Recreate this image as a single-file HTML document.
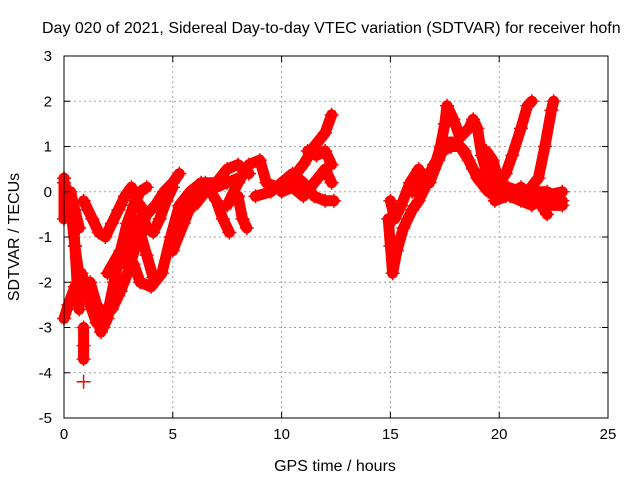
<!DOCTYPE html>
<html><head><meta charset="utf-8"><style>
html,body{margin:0;padding:0;background:#fff}
svg{display:block;font-family:"Liberation Sans",sans-serif}
</style></head><body>
<svg id="chart" width="640" height="480" viewBox="0 0 640 480" xmlns="http://www.w3.org/2000/svg">
<rect width="640" height="480" fill="#fff"/>
<text x="42" y="33" font-size="16" fill="#000">Day 020 of 2021, Sidereal Day-to-day VTEC variation (SDTVAR) for receiver hofn</text>
<g id="grid"></g>
<g id="series"></g>
<rect x="64" y="56" width="544" height="362" fill="none" stroke="#000" stroke-width="1"/>
<g id="axes"></g>
<text x="335" y="471" font-size="16" text-anchor="middle">GPS time / hours</text>
<text transform="translate(19,237) rotate(-90)" font-size="16" text-anchor="middle">SDTVAR / TECUs</text>
</svg>
<script>
const xTicks=[0,5,10,15,20,25];
const yTicks=[3,2,1,0,-1,-2,-3,-4,-5];
const tracks=[
[[0,0.2],[0.3,-0.3],[0.5,-1.2],[0.7,-1.9],[1.0,-2.0],[1.2,-2.5],[1.5,-2.9],[1.8,-3.0],[2.0,-2.7],[2.3,-2.0],[2.6,-1.3],[2.9,-0.7],[3.2,-0.3],[3.5,0.0],[3.8,0.1]],
[[0,-2.8],[0.2,-2.5],[0.5,-2.1],[0.8,-1.8],[1.1,-2.2],[1.4,-2.6],[1.7,-3.1],[2.0,-2.8],[2.3,-2.2]],
[[0.4,-0.4],[0.5,-1.2],[0.6,-2.0],[0.7,-2.6]],
[[1.2,-2.0],[1.5,-2.5],[1.8,-2.7],[2.2,-2.6],[2.5,-2.3]],
[[0,0.3],[0,-0.6],[0.1,-0.2],[0.3,0.0],[0.5,-0.4],[0.7,-0.8]],
[[0.9,-0.2],[1.3,-0.6],[1.6,-0.9],[1.9,-1.0],[2.2,-0.7],[2.5,-0.4],[2.8,-0.1],[3.1,0.1],[3.3,-0.2]],
[[2.0,-1.8],[2.6,-1.3],[3.2,-1.6],[3.5,-2.0],[4.0,-2.1],[4.5,-1.8],[4.9,-1.0],[5.3,-0.3],[5.8,0.0],[6.3,0.2],[7.0,0.2],[7.5,0.5],[8.0,0.6],[8.5,0.4]],
[[2.3,-2.3],[2.6,-2.2],[3.0,-1.7],[3.4,-1.0],[3.8,-0.5],[4.2,-0.3],[4.6,0.0],[5.0,0.2],[5.3,0.4]],
[[2.6,-1.6],[2.9,-1.0],[3.2,-0.6],[3.5,-0.9],[3.8,-1.4],[4.1,-1.9]],
[[3.5,-0.3],[3.8,-0.8],[4.1,-0.9],[4.4,-0.6],[4.7,-0.2],[5.0,0.1]],
[[5.0,-1.3],[5.5,-0.7],[6.0,-0.1],[6.5,0.2],[7.0,-0.2],[7.3,-0.6],[7.6,-0.9]],
[[6.0,-0.3],[6.5,0.0],[7.0,0.1],[7.5,0.2],[8.0,0.3]],
[[7.5,-0.3],[8.0,0.2],[8.5,0.6],[9.0,0.7],[9.3,0.2],[9.8,0.1],[10.5,0.3],[11.0,0.6],[11.5,1.0],[12.0,1.3],[12.3,1.7]],
[[8.0,-0.1],[8.2,-0.6],[8.4,-0.8]],
[[8.8,-0.1],[9.5,0.0],[10.0,0.2],[10.5,0.4],[11.0,0.2],[11.5,-0.1],[12.0,-0.2],[12.4,-0.2]],
[[10.0,0.0],[10.5,0.1],[11.0,-0.1],[11.5,0.2],[12.0,0.5],[12.3,0.2]],
[[11.2,0.9],[11.6,0.8],[12.0,0.9],[12.3,0.6]],
[[0.9,-3.0],[0.9,-3.4],[0.9,-3.7]],
[[0.9,-4.2]],
[[14.9,-0.6],[15.0,-1.2],[15.1,-1.8],[15.3,-1.3],[15.6,-0.8],[16.0,-0.4],[16.3,-0.2],[16.6,0.1],[17.0,0.5],[17.3,1.0],[17.5,1.5],[17.6,1.9],[17.9,1.6],[18.2,1.2],[18.6,1.4],[18.8,1.6],[19.0,1.4],[19.2,0.8],[19.5,0.3],[19.8,0.2],[20.2,0.1],[20.6,0.0],[21.0,-0.1],[21.5,-0.2],[22.0,-0.3],[22.9,-0.3]],
[[15.0,-0.2],[15.2,-0.6],[15.5,-0.3],[15.9,0.2],[16.3,0.5],[16.6,0.2],[17.0,0.6],[17.4,0.9],[17.8,1.0],[18.2,1.0],[18.6,0.7],[19.0,0.3],[19.5,0.0],[20.0,0.0],[20.5,-0.1],[21.0,-0.2],[21.5,-0.3],[22.0,-0.1],[22.9,0.0]],
[[16.0,0.0],[16.4,0.3],[16.8,0.2],[17.2,0.7],[17.6,1.1],[18.0,1.1],[18.4,0.9],[18.8,0.5],[19.2,0.2],[19.8,-0.1],[20.4,0.1],[21.0,0.0],[21.6,0.0],[22.2,0.0],[22.9,-0.2]],
[[19.4,0.9],[19.7,0.7],[20.0,0.2],[20.3,0.4],[20.6,0.8],[21.0,1.4],[21.3,1.9],[21.5,2.0]],
[[20.6,-0.1],[21.3,0.0],[21.8,0.3],[22.1,1.0],[22.4,1.8],[22.5,2.0]],
[[19.8,-0.2],[20.3,-0.1],[21.0,0.1],[21.8,-0.2],[22.2,-0.5]]
];
const NS="http://www.w3.org/2000/svg";
const X0=64,X1=608,Y0=56,Y1=418;
function xs(t){return X0+(t-0)/(25-0)*(X1-X0);}
function ys(v){return Y0+(3-v)/(3-(-5))*(Y1-Y0);}
function mk(tag,attrs,parent){const e=document.createElementNS(NS,tag);for(const k in attrs)e.setAttribute(k,attrs[k]);parent.appendChild(e);return e;}
const grid=document.getElementById('grid'),axes=document.getElementById('axes'),ser=document.getElementById('series');
xTicks.forEach(t=>{const x=xs(t);
 if(t>0&&t<25){const g=mk('line',{x1:x,x2:x,y1:Y0,y2:Y1,stroke:'#a0a0a0','stroke-dasharray':'2,3'},grid);
 
 }
 const tk=mk('path',{d:`M${x},${Y1}v-6M${x},${Y0}v6`,stroke:'#000'},axes);
 
 
 const l=mk('text',{x:x,y:Y1+21,'font-size':15,'text-anchor':'middle'},axes);l.textContent=t;
 
 
});
yTicks.forEach(v=>{const y=ys(v);
 if(v<3&&v>-5){const g=mk('line',{x1:X0,x2:X1,y1:y,y2:y,stroke:'#a0a0a0','stroke-dasharray':'2,3'},grid);
 
 }
 const tk=mk('path',{d:`M${X0},${y}h6M${X1},${y}h-6`,stroke:'#000'},axes);
 
 
 const l=mk('text',{x:X0-12,y:y+5,'font-size':15,'text-anchor':'end'},axes);l.textContent=v;
 
 
});
tracks.forEach(tr=>{
 if(tr.length>1){const p=mk('polyline',{points:tr.map(p=>xs(p[0])+','+ys(p[1])).join(' '),fill:'none',stroke:'#f00','stroke-width':11,'stroke-linejoin':'round','stroke-linecap':'round'},ser);
 
 }
 tr.forEach(p=>{const x=xs(p[0]),y=ys(p[1]);
  const c=mk('path',{d:`M${x-7},${y}h14M${x},${y-7}v14`,stroke:'#f00','stroke-width':1.5},ser);
  
  
 });
});
</script>
</body></html>
